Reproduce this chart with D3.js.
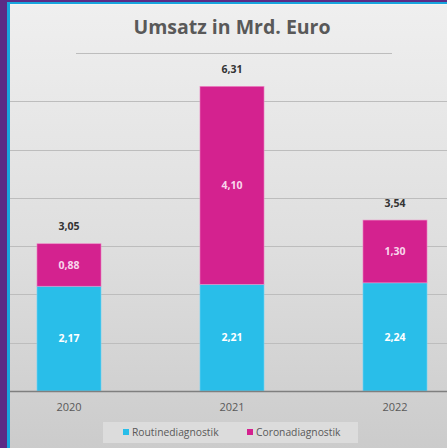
<!DOCTYPE html>
<html>
<head>
<meta charset="utf-8">
<script src="https://cdn.jsdelivr.net/npm/d3@7"></script>
<style>
body { margin: 0; }
svg { display: block; font-family: "Open Sans", sans-serif; }
</style>
</head>
<body>
<script>
var years = ["2020", "2021", "2022"];
var routine = [2.17, 2.21, 2.24]; // Routinediagnostik
var corona = [0.88, 4.10, 1.30];  // Coronadiagnostik
var seriesNames = ["Routinediagnostik", "Coronadiagnostik"];
var yTicks = [0, 1, 2, 3, 4, 5, 6, 7];

var width = 447, height = 448;
var colors = ["#29bee9", "#d4228f"];
var fmt = function (v) { return v.toFixed(2).replace(".", ","); };

var svg = d3.select("body").append("svg").attr("width", width).attr("height", height);

// rahmen
svg.append("rect").attr("width", width).attr("height", height).attr("fill", "#5b2b86");
svg.append("rect").attr("x", 7).attr("y", 2).attr("width", width).attr("height", height).attr("fill", "#17a5de");
svg.append("rect").attr("x", 10).attr("y", 4).attr("width", width).attr("height", height).attr("fill", "#f4f4f4");

var grad = svg.append("defs").append("linearGradient").attr("id", "bg")
    .attr("x1", 0).attr("y1", 0).attr("x2", 0).attr("y2", 1);
grad.append("stop").attr("offset", "0%").attr("stop-color", "#efefef");
grad.append("stop").attr("offset", "55%").attr("stop-color", "#dedede");
grad.append("stop").attr("offset", "100%").attr("stop-color", "#cbcbcb");
svg.append("rect").attr("x", 10).attr("y", 5).attr("width", width).attr("height", height).attr("fill", "url(#bg)");

var x = d3.scaleBand().domain(years).range([-12.5, 476.5]).paddingInner(0.607).paddingOuter(0.3035);
var y = d3.scaleLinear().domain([0, 7]).range([391, 53]);
var mid = (x.range()[0] + x.range()[1]) / 2;

// gitterlinien
svg.append("g").selectAll("line").data(yTicks.slice(1)).enter().append("line")
    .attr("x1", function (d) { return d === 7 ? 76 : 10; })
    .attr("x2", function (d) { return d === 7 ? 392 : width; })
    .attr("y1", function (d) { return Math.round(y(d)) + 0.5; })
    .attr("y2", function (d) { return Math.round(y(d)) + 0.5; })
    .attr("stroke", "#bdbdbd").attr("stroke-width", 1);

var stack = d3.stack().keys([0, 1]).value(function (d, k) { return d[k]; });
var rows = years.map(function (yr, i) { return [routine[i], corona[i]]; });
var layers = stack(rows);

var g = svg.append("g");
layers.forEach(function (layer, k) {
    g.selectAll("rect.s" + k).data(layer).enter().append("rect")
        .attr("class", "s" + k)
        .attr("x", function (d, i) { return x(years[i]); })
        .attr("width", x.bandwidth())
        .attr("y", function (d) { return y(d[1]); })
        .attr("height", function (d) { return y(d[0]) - y(d[1]); })
        .attr("fill", colors[k])
        .attr("stroke", k ? "#ee8cc6" : "#7fd6f2").attr("stroke-width", 0.6);

    g.selectAll("text.s" + k).data(layer).enter().append("text")
        .attr("class", "s" + k)
        .attr("x", function (d, i) { return x(years[i]) + x.bandwidth() / 2; })
        .attr("y", function (d) { return (y(d[0]) + y(d[1])) / 2; })
        .attr("dy", "0.35em")
        .attr("text-anchor", "middle")
        .attr("font-size", 10.5).attr("font-weight", "bold")
        .attr("fill", k ? "#f8d6ec" : "#ffffff")
        .text(function (d, i) { return fmt(k ? corona[i] : routine[i]); });
});

// summen
g.selectAll("text.total").data(years).enter().append("text")
    .attr("class", "total")
    .attr("x", function (d) { return x(d) + x.bandwidth() / 2; })
    .attr("y", function (d, i) { return y(routine[i] + corona[i]) - 17; })
    .attr("dy", "0.35em")
    .attr("text-anchor", "middle")
    .attr("font-size", 10.5).attr("font-weight", "bold").attr("fill", "#333333")
    .text(function (d, i) { return fmt(routine[i] + corona[i]); });

// x achse
var xAxis = d3.axisBottom(x).tickSize(0).tickPadding(12);
var ax = svg.append("g").attr("transform", "translate(0," + y(0) + ")").call(xAxis);
ax.select(".domain").attr("d", "M10,0.5H" + width).attr("stroke", "#7f7f7f").attr("stroke-width", 1.5);
ax.selectAll("text").attr("font-size", 11).attr("fill", "#595959").attr("font-family", "Open Sans");

// titel
svg.append("text").attr("x", mid).attr("y", 34)
    .attr("text-anchor", "middle").attr("font-size", 19.5).attr("font-weight", "bold")
    .attr("fill", "#595959").text("Umsatz in Mrd. Euro");

// legende
var leg = svg.append("g");
leg.append("rect").attr("x", 103).attr("y", 422).attr("width", 255).attr("height", 21).attr("fill", "#dcdcdc");
var legX = [123, 247];
seriesNames.forEach(function (name, k) {
    leg.append("rect").attr("x", legX[k]).attr("y", 429).attr("width", 6).attr("height", 6).attr("fill", colors[k]);
    leg.append("text").attr("x", legX[k] + 9).attr("y", 432).attr("dy", "0.35em")
        .attr("font-size", 10.3).attr("fill", "#595959").text(name);
});
</script>
</body>
</html>
